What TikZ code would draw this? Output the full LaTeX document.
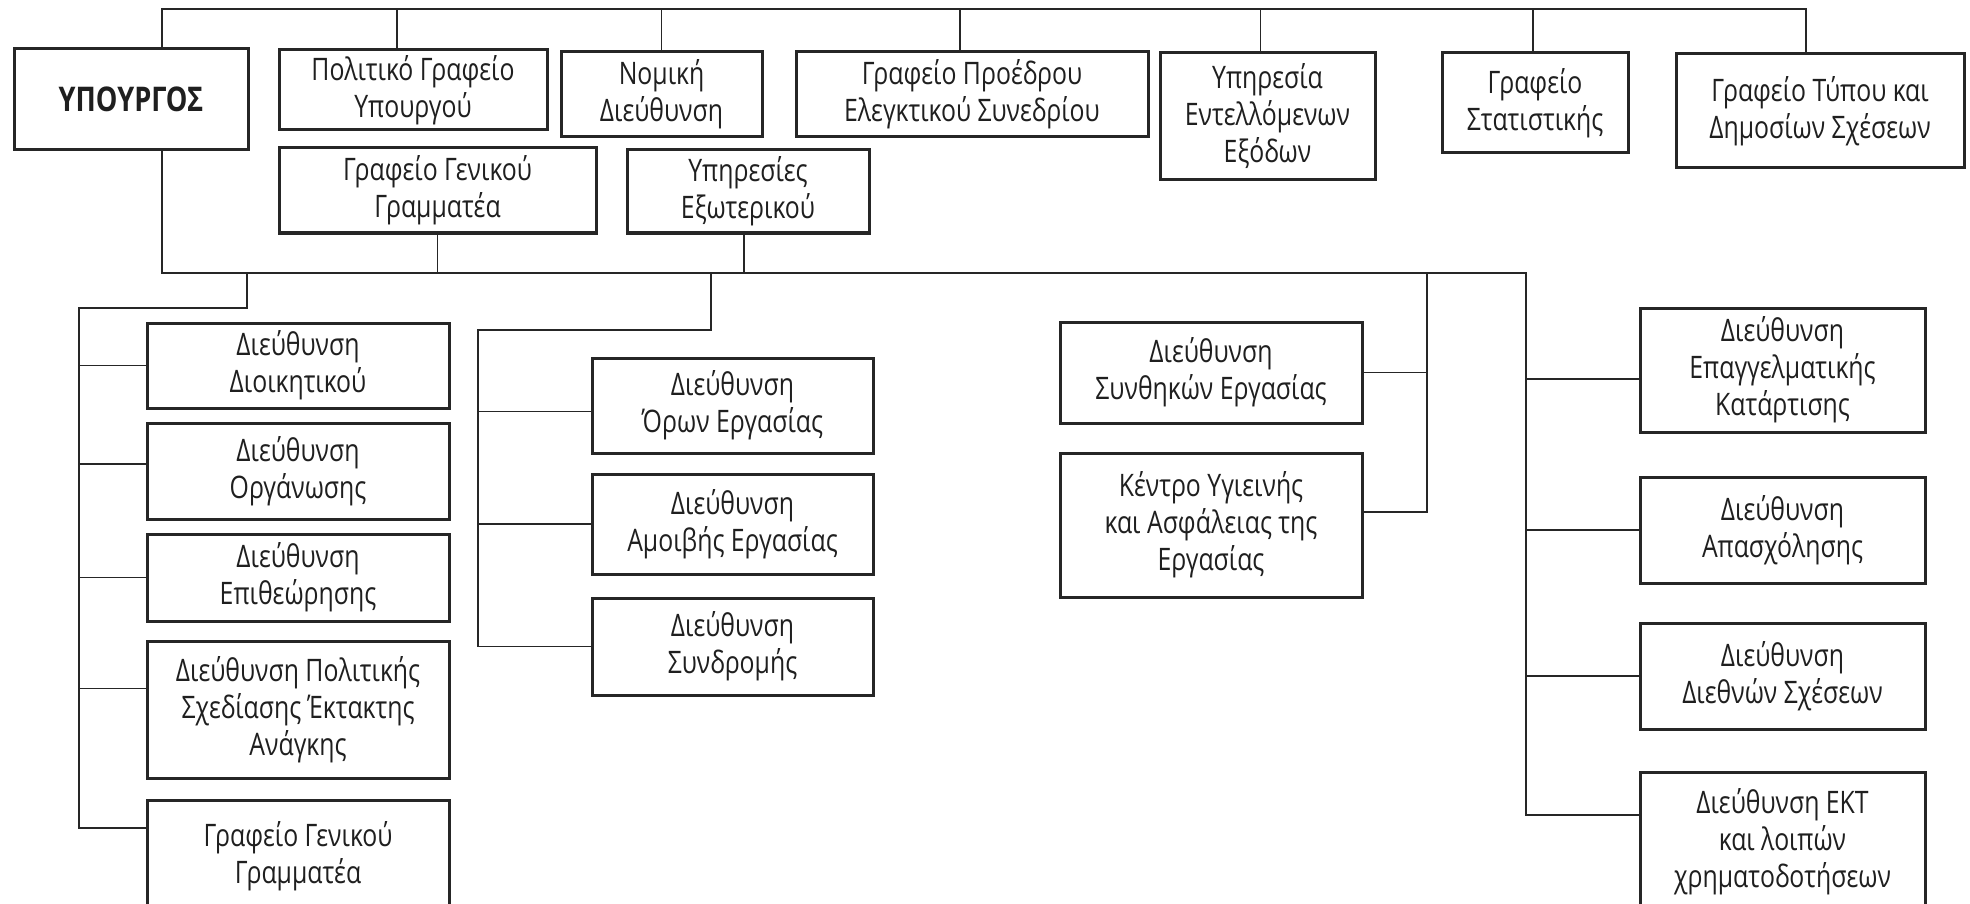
\documentclass[tikz,border=0pt]{standalone}
\usepackage{fontspec}
\setmainfont{Open Sans}[FakeStretch=0.8]
\begin{document}
\begin{tikzpicture}[x=1pt,y=-1pt,
  unit/.style={draw=black!85, line width = 3, align=center, inner sep=0, text=black!88,
    font=\fontsize{31}{37}\selectfont},
  link/.style={black!85, line width = 1.9}]
\clip (0,0) rectangle (1970,904);
\fill[white] (0,0) rectangle (1970,904);
\node[unit, minimum width=234, minimum height=101, font=\fontsize{34}{37}\selectfont\bfseries] (minister) at (131,99.5) {ΥΠΟΥΡΓΟΣ};
\node[unit, minimum width=268, minimum height=80] (polit) at (413,90) {Πολιτικό Γραφείο\\Υπουργού};
\node[unit, minimum width=201, minimum height=85] (legal) at (661.5,94.5) {Νομική\\Διεύθυνση};
\node[unit, minimum width=352, minimum height=85] (presid) at (972,94.5) {Γραφείο Προέδρου\\Ελεγκτικού Συνεδρίου};
\node[unit, minimum width=215, minimum height=127] (expend) at (1267.5,116.5) {Υπηρεσία\\Εντελλόμενων\\Εξόδων};
\node[unit, minimum width=186, minimum height=100] (stats) at (1535,103) {Γραφείο\\Στατιστικής};
\node[unit, minimum width=288, minimum height=114] (press) at (1820,111) {Γραφείο Τύπου και\\Δημοσίων Σχέσεων};
\node[unit, minimum width=317, minimum height=85] (gensec) at (437.5,190.5) {Γραφείο Γενικού\\Γραμματέα};
\node[unit, minimum width=242, minimum height=83] (abroad) at (748,191.5) {Υπηρεσίες\\Εξωτερικού};
\node[unit, minimum width=302, minimum height=85] (admin) at (298,365.5) {Διεύθυνση\\Διοικητικού};
\node[unit, minimum width=302, minimum height=96] (organ) at (298,471) {Διεύθυνση\\Οργάνωσης};
\node[unit, minimum width=302, minimum height=87] (inspect) at (298,577.5) {Διεύθυνση\\Επιθεώρησης};
\node[unit, minimum width=302, minimum height=137] (plan) at (298,709.5) {Διεύθυνση Πολιτικής\\Σχεδίασης Έκτακτης\\Ανάγκης};
\node[unit, minimum width=302, minimum height=112] (gensecb) at (298,856) {Γραφείο Γενικού\\Γραμματέα};
\node[unit, minimum width=281, minimum height=95] (terms) at (732.5,405.5) {Διεύθυνση\\Όρων Εργασίας};
\node[unit, minimum width=281, minimum height=100] (pay) at (732.5,524) {Διεύθυνση\\Αμοιβής Εργασίας};
\node[unit, minimum width=281, minimum height=97] (subsc) at (732.5,646.5) {Διεύθυνση\\Συνδρομής};
\node[unit, minimum width=302, minimum height=101] (cond) at (1211,372.5) {Διεύθυνση\\Συνθηκών Εργασίας};
\node[unit, minimum width=302, minimum height=144] (health) at (1211,525) {Κέντρο Υγιεινής\\και Ασφάλειας της\\Εργασίας};
\node[unit, minimum width=285, minimum height=124] (voc) at (1782.5,370) {Διεύθυνση\\Επαγγελματικής\\Κατάρτισης};
\node[unit, minimum width=285, minimum height=106] (empl) at (1782.5,530) {Διεύθυνση\\Απασχόλησης};
\node[unit, minimum width=285, minimum height=106] (intl) at (1782.5,676) {Διεύθυνση\\Διεθνών Σχέσεων};
\node[unit, minimum width=285, minimum height=140] (esf) at (1782.5,842) {Διεύθυνση ΕΚΤ\\και λοιπών\\χρηματοδοτήσεων};
\coordinate (top) at (0,9);
\coordinate (lbr) at (247,273);
\coordinate (lspine) at (79,308);
\coordinate (cbr) at (711,273);
\coordinate (cspine) at (478,330);
\coordinate (hbr) at (1427,273);
\coordinate (rspine) at (1526,273);
\draw[link] ([xshift=31]minister.north) |- ([xshift=-14]press.north |- top) -- ([xshift=-14]press.north);
\foreach \n/\s in {polit/-16, legal/0, presid/-12, expend/-7, stats/-2}
  \draw[link] ([xshift=\s]\n.north) -- ([xshift=\s]\n.north |- top);
\draw[link] ([xshift=31]minister.south) |- (rspine) |- ([yshift=27]esf.west);
\draw[link] (gensec.south) -- (gensec.south |- rspine);
\draw[link] ([xshift=-4]abroad.south) -- ([xshift=-4]abroad.south |- rspine);
\draw[link] (lbr) |- (lspine) |- ([yshift=28]gensecb.west);
\foreach \n/\s in {admin/0, organ/7, inspect/0, plan/21}
  \draw[link] ([yshift=\s]\n.west) -- ([yshift=\s]\n.west -| lspine);
\draw[link] (cbr) |- (cspine) |- (subsc.west);
\foreach \n/\s in {terms/-6, pay/0}
  \draw[link] ([yshift=\s]\n.west) -- ([yshift=\s]\n.west -| cspine);
\draw[link] (hbr) |- ([yshift=13]health.east);
\draw[link] (cond.east) -- (cond.east -| hbr);
\foreach \n/\s in {voc/-9, empl/0, intl/0}
  \draw[link] ([yshift=\s]\n.west) -- ([yshift=\s]\n.west -| rspine);
\end{tikzpicture}
\end{document}
